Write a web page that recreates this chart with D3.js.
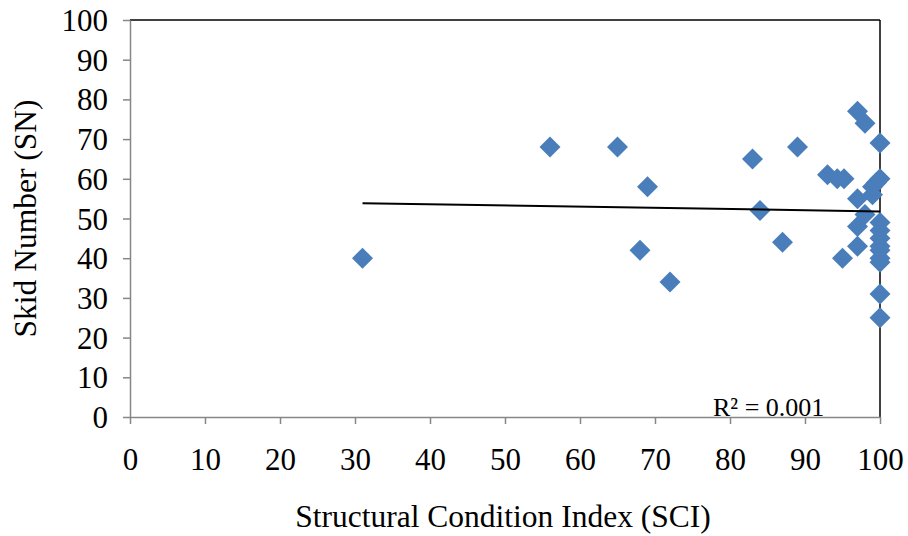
<!DOCTYPE html>
<html>
<head>
<meta charset="utf-8">
<script src="https://cdn.jsdelivr.net/npm/d3@7"></script>
<style>
  body { margin: 0; background: #fff; }
  svg text { font-family: "Liberation Serif", "Times New Roman", serif; fill: #000; }
</style>
</head>
<body>
<svg id="chart" width="908" height="536"></svg>
<script>
// SCI vs skid number
var sci = [31, 56, 65, 68, 69, 72, 83, 84, 87, 89,
           93, 94.3, 95.2, 95, 97, 98, 97, 98, 97, 97,
           99, 99, 99.5, 100, 100, 100, 100, 100, 100, 100,
           100, 100, 100, 100];
var skid = [40, 68, 68, 42, 58, 34, 65, 52, 44, 68,
            61, 60, 60, 40, 77, 74, 55, 51, 48, 43,
            56, 58, 59, 60, 69, 49, 47, 45, 43, 42,
            40, 39, 31, 25];
var xTicks = [0, 10, 20, 30, 40, 50, 60, 70, 80, 90, 100];
var yTicks = [0, 10, 20, 30, 40, 50, 60, 70, 80, 90, 100];

var serif = "'Liberation Serif', 'Times New Roman', serif";
var svg = d3.select('#chart');
var plotL = 130, plotR = 880, plotT = 20, plotB = 417;

var x = d3.scaleLinear().domain([0, 100]).range([plotL, plotR]);
var y = d3.scaleLinear().domain([0, 100]).range([plotB, plotT]);

// frame: black top and right
svg.append("line")
    .attr("x1", plotL).attr("x2", plotR).attr("y1", plotT).attr("y2", plotT)
    .attr("stroke", "#000").attr("stroke-width", 1.5);
svg.append("line")
    .attr("x1", plotR).attr("x2", plotR).attr("y1", plotT).attr("y2", plotB)
    .attr("stroke", "#000").attr("stroke-width", 1.5);

var yAxis = svg.append("g")
    .attr("transform", "translate(" + plotL + ",0)")
    .call(d3.axisLeft(y).tickValues(yTicks).tickSize(7).tickPadding(15).tickSizeOuter(0));
var xAxis = svg.append("g")
    .attr("transform", "translate(0," + plotB + ")")
    .call(d3.axisBottom(x).tickValues(xTicks).tickSize(7).tickSizeOuter(0));

[yAxis, xAxis].forEach(function(g) {
    g.attr("font-size", null).attr("font-family", null);
    g.select(".domain").attr("stroke", "#868686").attr("stroke-width", 1.5);
    g.selectAll(".tick line").attr("stroke", "#868686").attr("stroke-width", 1.5);
    g.selectAll(".tick text")
        .style("font-family", serif)
        .style("font-size", "31px").attr("fill", "#000");
});
xAxis.selectAll(".tick text").attr("y", 53).attr("dy", 0);
yAxis.selectAll(".tick text").attr("dy", "0.34em");

// linear trend
var n = sci.length;
var mx = d3.mean(sci), my = d3.mean(skid);
var sxy = 0, sxx = 0, syy = 0;
for (var i = 0; i < n; i++) {
    sxy += (sci[i] - mx) * (skid[i] - my);
    sxx += (sci[i] - mx) * (sci[i] - mx);
    syy += (skid[i] - my) * (skid[i] - my);
}
var slope = sxy / sxx, icpt = my - slope * mx;
var r2 = (sxy * sxy) / (sxx * syy);
var x0 = d3.min(sci), x1 = d3.max(sci);

var diamond = "M0,-10.5L10.5,0L0,10.5L-10.5,0Z";
svg.append("g")
    .selectAll("path")
    .data(sci)
    .enter()
    .append("path")
    .attr("d", diamond)
    .attr("transform", function(d, i) {
        return "translate(" + x(d) + "," + y(skid[i]) + ")";
    })
    .attr("fill", "#4a7ebb");

svg.append("line")
    .attr("x1", x(x0)).attr("y1", y(icpt + slope * x0))
    .attr("x2", x(x1)).attr("y2", y(icpt + slope * x1))
    .attr("stroke", "#000").attr("stroke-width", 2);

svg.append("text")
    .attr("x", 713).attr("y", 416)
    .style("font-family", serif)
    .style("font-size", "26px")
    .text("R² = " + r2.toFixed(3));

svg.append("text")
    .attr("x", (plotL + plotR) / 2 - 2).attr("y", 527)
    .attr("text-anchor", "middle")
    .style("font-family", serif)
    .style("font-size", "31.5px")
    .text("Structural Condition Index (SCI)");

svg.append("text")
    .attr("transform", "translate(36," + ((plotT + plotB) / 2) + ") rotate(-90)")
    .attr("text-anchor", "middle")
    .style("font-family", serif)
    .style("font-size", "31.5px")
    .text("Skid Number (SN)");
</script>
</body>
</html>
